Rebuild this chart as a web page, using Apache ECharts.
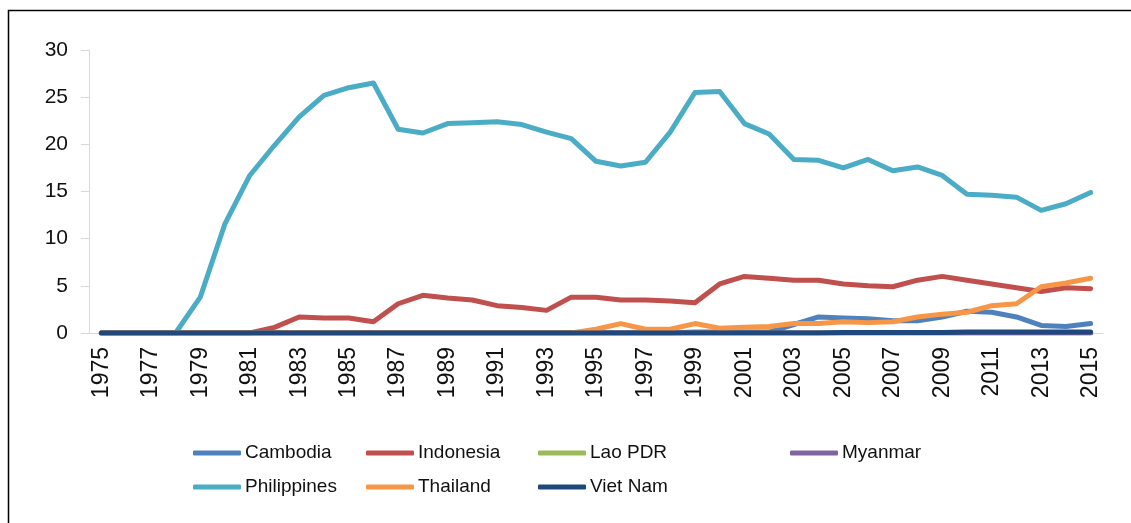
<!DOCTYPE html>
<html>
<head>
<meta charset="utf-8">
<script src="https://cdn.jsdelivr.net/npm/echarts@6/dist/echarts.min.js"></script>
<style>
  html, body { margin: 0; padding: 0; background: #fff; }
  #chart { width: 1131px; height: 523px; }
</style>
</head>
<body>
<div id="chart"></div>
<script>
// years 1975-2015
var years = [];
for (var y = 1975; y <= 2015; y++) years.push(String(y));

var cambodia = [0,0,0,0,0,0,0,0,0,0, 0,0,0,0,0,0,0,0,0,0, 0,0,0,0,0.1,0.1,0.1,0.1,0.9,1.7, 1.6,1.5,1.3,1.3,1.7,2.3,2.2,1.7,0.8,0.7, 1.0];
var indonesia = [0,0,0,0,0,0,0,0.6,1.7,1.6, 1.6,1.2,3.1,4.0,3.7,3.5,2.9,2.7,2.4,3.8, 3.8,3.5,3.5,3.4,3.2,5.2,6.0,5.8,5.6,5.6, 5.2,5.0,4.9,5.6,6.0,5.6,5.2,4.8,4.4,4.8, 4.7];
var lao = [0,0,0,0,0,0,0,0,0,0, 0,0,0,0,0,0,0,0,0,0, 0,0,0,0,0,0,0,0,0,0, 0,0,0,0,0,0,0,0,0,0, 0];
var myanmar = [0,0,0,0,0,0,0,0,0,0, 0,0,0,0,0,0,0,0,0,0, 0,0,0,0,0,0,0,0,0,0, 0,0,0,0,0,0,0,0,0,0, 0];
var philippines = [0,0,0,0,3.8,11.6,16.7,19.9,22.9,25.2, 26.0,26.5,21.6,21.2,22.2,22.3,22.4,22.1,21.3,20.6, 18.2,17.7,18.1,21.3,25.5,25.6,22.2,21.1,18.4,18.3, 17.5,18.4,17.2,17.6,16.7,14.7,14.6,14.4,13.0,13.7, 14.9];
var thailand = [0,0,0,0,0,0,0,0,0,0, 0,0,0,0,0,0,0,0,0,0, 0.4,1.0,0.4,0.4,1.0,0.5,0.6,0.7,1.0,1.0, 1.2,1.1,1.2,1.7,2.0,2.2,2.9,3.1,4.9,5.3, 5.8];
var vietnam = [0,0,0,0,0,0,0,0,0,0, 0,0,0,0,0,0,0,0,0,0, 0,0,0,0,0,0,0,0,0,0, 0.05,0.05,0.05,0.05,0.05,0.1,0.1,0.1,0.1,0.1, 0.1];

var names = ['Cambodia', 'Indonesia', 'Lao PDR', 'Myanmar', 'Philippines', 'Thailand', 'Viet Nam'];
var colors = ['#4F81BD', '#C0504D', '#9BBB59', '#8064A2', '#4BACC6', '#F79646', '#1F497D'];
var values = [cambodia, indonesia, lao, myanmar, philippines, thailand, vietnam];

var chart = echarts.init(document.getElementById('chart'));

var font = 'Liberation Sans, Arial, sans-serif';

function legendCol(left, data) {
  return {
    orient: 'vertical',
    left: left,
    top: 443,
    data: data,
    icon: 'roundRect',
    itemWidth: 48,
    itemHeight: 5,
    itemGap: 14,
    padding: 0,
    selectedMode: false,
    textStyle: { fontFamily: font, fontSize: 19, color: '#111', lineHeight: 20, padding: [0, 0, 0, -1] }
  };
}

var option = {
  animation: false,
  backgroundColor: '#fff',
  color: colors,
  graphic: [{
    type: 'rect',
    shape: { x: 8.5, y: 10.5, width: 1300, height: 700 },
    style: { fill: 'none', stroke: '#000', lineWidth: 1.5 },
    silent: true
  }],
  grid: { left: 89, right: 28, top: 50, bottom: 190 },
  legend: [
    legendCol(193, ['Cambodia', 'Philippines']),
    legendCol(366, ['Indonesia', 'Thailand']),
    legendCol(538, ['Lao PDR', 'Viet Nam']),
    legendCol(790, ['Myanmar'])
  ],
  xAxis: {
    type: 'category',
    data: years,
    boundaryGap: true,
    axisLine: { lineStyle: { color: '#d9d9d9', width: 1 } },
    axisTick: { show: false },
    axisLabel: {
      interval: 1,
      rotate: 90,
      margin: 14,
      fontFamily: font,
      fontSize: 23,
      color: '#111'
    }
  },
  yAxis: {
    type: 'value',
    min: 0,
    max: 30,
    interval: 5,
    splitLine: { show: false },
    axisLine: { show: true, lineStyle: { color: '#d9d9d9', width: 1 } },
    axisTick: { show: true, length: 8, lineStyle: { color: '#d9d9d9' } },
    axisLabel: { margin: 21, fontFamily: font, fontSize: 21, color: '#111' }
  },
  series: names.map(function (n, i) {
    return {
      name: n,
      type: 'line',
      data: values[i],
      symbol: 'none',
      lineStyle: { width: 5, color: colors[i], cap: 'round', join: 'round' },
      itemStyle: { color: colors[i] }
    };
  })
};

chart.setOption(option);
</script>
</body>
</html>
